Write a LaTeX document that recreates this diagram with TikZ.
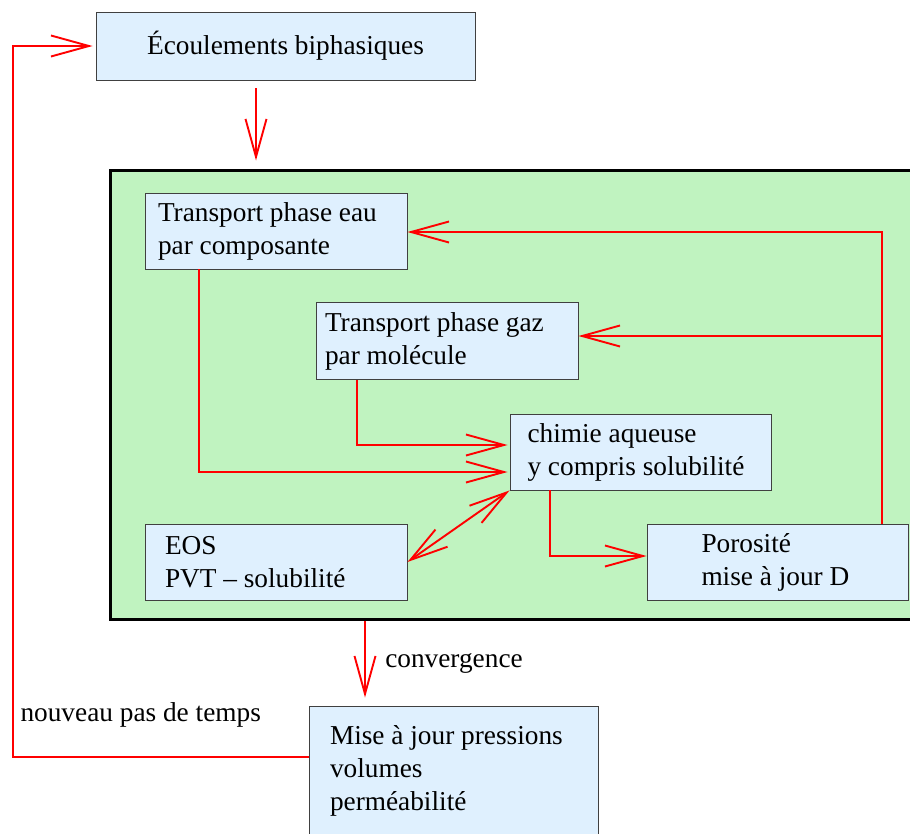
\documentclass[tikz,border=0pt]{standalone}
\usepackage{fontspec}
\setmainfont{Liberation Serif}
\usetikzlibrary{arrows.meta}
\definecolor{bleuclair}{RGB}{223,240,254}
\definecolor{vertclair}{RGB}{192,243,192}
\tikzset{
  pointe/.tip={Straight Barb[length=38pt,width=21pt]},
  bloc/.style={draw=black!75, fill=bleuclair, line width=0.9pt, minimum height=76pt, inner xsep=0pt, align=flush left},
  fleche/.style={red, line width=1.9pt, -pointe},
}
\begin{document}
\begin{tikzpicture}[x=1pt, y=-1pt, font=\fontsize{27.3}{33}\selectfont]
\useasboundingbox (0,0) rectangle (910,833);

\node[draw, line width=3pt, fill=vertclair, minimum width=815pt, minimum height=449pt] (couplage) at (517.5,394.5) {};

\node[bloc, minimum width=379pt, minimum height=68pt] (ecoul) at (285.5,46) {Écoulements biphasiques};
\node[bloc, minimum width=262pt, text width=236pt] (eau) at (276,231) {Transport phase eau\\par composante};
\node[bloc, minimum width=262pt, minimum height=77pt, text width=244pt] (gaz) at (447,341) {Transport phase gaz\\par molécule};
\node[bloc, minimum width=261pt, text width=226pt] (chimie) at (640.5,452) {chimie aqueuse\\y compris solubilité};
\node[bloc, minimum width=262pt, text width=222pt] (eos) at (276,562) {EOS\\PVT -- solubilité};
\node[bloc, minimum width=261pt, text width=152pt] (poro) at (777.5,562) {Porosité\\mise à jour D};
\node[bloc, minimum width=289pt, minimum height=130pt, text width=247pt] (maj) at (453.5,771) {Mise à jour pressions\\volumes\\perméabilité};
\node[anchor=west] (pas) at (17,715) {nouveau pas de temps};

\coordinate (descente) at ([xshift=-29.5pt]ecoul.south);
\coordinate (retour) at ([xshift=104.5pt]poro.north);
\coordinate (sortie) at ([xshift=-152.5pt]couplage.south);

\draw[fleche, shorten <=8pt, shorten >=8pt] (descente) -- (descente |- couplage.north);
\draw[fleche, shorten >=3pt] ([yshift=14pt]maj.west) -- ++(-296,0) |- (ecoul.west);
\draw[fleche] (retour) |- ([yshift=-1pt]eau.east);
\draw[fleche] (retour |- gaz.east) ++(0,-5) -- ([yshift=5pt]gaz.east);
\draw[fleche, shorten >=2pt] ([xshift=-77pt]eau.south) |- ([yshift=-20pt]chimie.west);
\draw[fleche, shorten >=2pt] ([xshift=-90pt]gaz.south) |- ([yshift=7pt]chimie.west);
\draw[fleche] ([xshift=-90.5pt]chimie.south) |- ([yshift=6pt]poro.west);
\draw[fleche, pointe-pointe] (chimie.south west) -- (eos.east);
\draw[fleche, shorten >=8pt] (sortie) -- node[right=16pt, text=black] (conv) {convergence} (sortie |- maj.north);

\end{tikzpicture}
\end{document}
